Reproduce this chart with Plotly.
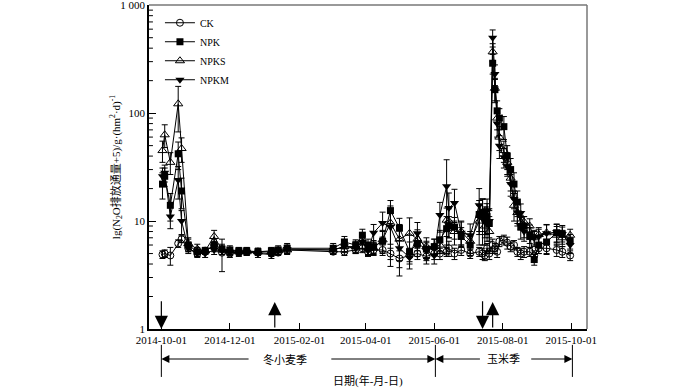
import math
import plotly.graph_objects as go

dates = [
    "2014-10-02", "2014-10-04", "2014-10-09", "2014-10-16", "2014-10-19", "2014-10-25",
    "2014-11-02", "2014-11-09", "2014-11-17", "2014-11-24", "2014-12-01", "2014-12-09",
    "2014-12-16", "2014-12-26", "2015-01-07", "2015-01-13", "2015-01-21", "2015-03-03",
    "2015-03-13", "2015-03-23", "2015-03-29", "2015-04-03", "2015-04-08", "2015-04-16",
    "2015-04-23", "2015-05-01", "2015-05-10", "2015-05-17", "2015-05-25", "2015-06-01",
    "2015-06-06", "2015-06-12", "2015-06-14", "2015-06-19", "2015-06-25", "2015-07-03",
    "2015-07-11", "2015-07-14", "2015-07-16", "2015-07-18", "2015-07-20", "2015-07-23",
    "2015-07-25", "2015-07-27", "2015-07-29", "2015-08-02", "2015-08-05", "2015-08-08",
    "2015-08-11", "2015-08-14", "2015-08-17", "2015-08-20", "2015-08-25", "2015-08-29",
    "2015-09-02", "2015-09-09", "2015-09-18", "2015-09-23", "2015-09-30",
]

ck = [4.9, 5.0, 4.8, 6.2, 6.8, 5.6, 5.0, 5.2, 6.0, 5.1, 5.0, 5.2, 5.2, 5.1, 5.0, 5.1, 5.4, 5.2,
      5.2, 5.4, 5.6, 5.2, 5.4, 5.4, 5.0, 4.5, 4.8, 5.0, 4.7, 5.0,
      5.0, 5.2, 5.6, 5.0, 5.4, 5.0, 5.2, 5.0, 4.8, 5.6, 5.0, 6.0, 5.6, 5.2, 6.5, 6.7, 6.3, 5.8,
      6.0, 5.2, 5.0, 5.2, 5.2, 4.8, 5.6, 5.6, 5.4, 5.2, 4.8]
ck_err = [0.4, 0.4, 0.9, 0.5, 0.5, 0.4, 0.3, 0.3, 0.5, 1.7, 0.4, 0.3, 0.3, 0.3, 0.3, 0.3, 0.4, 0.3,
          0.4, 0.4, 0.5, 0.4, 0.5, 0.6, 0.6, 0.8, 0.6, 0.6, 0.7, 0.6,
          0.6, 0.5, 0.9, 0.6, 0.6, 0.5, 0.5, 0.6, 0.5, 0.6, 0.6, 0.8, 0.6, 0.6, 0.7, 0.7, 0.8, 0.6,
          0.6, 0.5, 0.6, 0.6, 0.5, 0.5, 0.6, 0.6, 0.7, 0.6, 0.5]

npk = [22, 26, 14, 42, 19, 6.0, 5.2, 5.3, 6.0, 5.5, 5.4, 5.3, 5.3, 5.2, 5.3, 5.4, 5.6, 5.6,
       6.4, 6.0, 7.4, 6.0, 5.8, 6.5, 12.5, 8.6, 5.2, 6.2, 5.5, 5.8,
       6.7, 8.5, 9.0, 8.8, 7.2, 6.0, 11.5, 12.0, 10.5, 11.0, 9.5, 290, 165, 105, 90, 75, 40, 30,
       22, 15, 8.8, 9.0, 7.2, 4.4, 6.0, 6.4, 7.8, 7.6, 6.5]
npk_err = [6, 5, 4, 12, 6, 0.8, 0.5, 0.4, 0.8, 0.6, 0.5, 0.4, 0.4, 0.4, 0.4, 0.5, 0.6, 0.6,
           0.8, 0.7, 1.0, 0.8, 0.8, 1.5, 3.0, 2.0, 1.2, 1.5, 1.0, 1.0,
           1.5, 2.5, 2.0, 2.0, 1.5, 1.2, 4.0, 4.0, 3.0, 3.5, 3.0, 60, 40, 25, 20, 18, 10, 8,
           6, 4, 2.0, 2.0, 1.5, 0.5, 1.0, 1.5, 1.5, 1.5, 1.0]

npks = [45, 63, 35, 122, 47, 6.2, 5.5, 5.3, 7.2, 5.4, 5.3, 5.2, 5.2, 5.2, 5.2, 5.3, 5.4, 5.4,
        5.8, 5.8, 6.4, 5.6, 5.6, 6.7, 9.6, 6.8, 7.7, 6.8, 5.8, 5.8,
        6.0, 10.2, 10.0, 8.0, 8.0, 6.5, 10.0, 11.0, 9.0, 10.0, 8.0, 370, 170, 90, 60, 45, 35, 25,
        14, 12, 9.8, 9.8, 9.0, 7.0, 7.5, 7.8, 7.4, 7.0, 7.4]
npks_err = [10, 15, 8, 55, 12, 0.8, 0.6, 0.4, 1.0, 0.5, 0.4, 0.4, 0.4, 0.4, 0.4, 0.4, 0.5, 0.5,
            0.7, 0.7, 0.9, 0.7, 0.8, 1.5, 3.5, 2.5, 3.0, 1.5, 1.2, 1.0,
            1.0, 3.0, 3.0, 2.0, 2.0, 1.5, 4.0, 5.0, 3.0, 3.5, 3.0, 70, 40, 20, 15, 10, 8, 6,
            4, 3, 1.5, 1.2, 1.5, 1.0, 1.2, 1.5, 1.5, 1.2, 1.0]

npkm = [26, 28, 11, 24, 10, 5.6, 5.0, 5.0, 5.4, 5.3, 5.2, 5.1, 5.2, 5.0, 4.9, 5.3, 5.5, 5.4,
        5.8, 5.6, 6.4, 5.3, 7.8, 9.6, 8.8, 5.6, 4.6, 7.7, 5.3, 4.8,
        11.4, 21, 13.2, 14.7, 7.8, 7.4, 14, 12, 10, 12.5, 10, 500, 230, 80, 50, 39, 32, 22,
        16, 12, 11.9, 8.0, 7.7, 7.0, 7.2, 7.7, 7.9, 7.6, 6.0]
npkm_err = [5, 5, 2.5, 8, 2.5, 0.6, 0.4, 0.4, 0.5, 0.4, 0.4, 0.4, 0.4, 0.4, 0.4, 0.4, 0.5, 0.5,
            0.6, 0.6, 0.8, 0.6, 1.5, 2.5, 5.0, 2.5, 1.0, 2.0, 1.0, 0.8,
            3.5, 16, 5.0, 5.0, 2.0, 2.0, 6.0, 4.0, 3.0, 3.5, 3.0, 90, 50, 20, 12, 8, 6, 5,
            3, 2.5, 2.5, 1.5, 1.5, 1.2, 1.2, 1.5, 1.5, 1.2, 1.0]

tick_dates = ["2014-10-01", "2014-12-01", "2015-02-01", "2015-04-01", "2015-06-01", "2015-08-01", "2015-10-01"]
ytick_vals = [1, 10, 100, 1000]
ytick_text = ["1", "10", "100", "1 000"]

FONT = "Liberation Serif, Times New Roman, Noto Sans CJK SC, serif"
YTOP = 3.002

series = [
    ("CK", ck, ck_err, dict(symbol="circle-open", color="black", size=7, line=dict(width=1, color="black"))),
    ("NPK", npk, npk_err, dict(symbol="square", color="black", size=7)),
    ("NPKS", npks, npks_err, dict(symbol="triangle-up-open", color="black", size=8, line=dict(width=1, color="black"))),
    ("NPKM", npkm, npkm_err, dict(symbol="triangle-down", color="black", size=8)),
]

fig = go.Figure()
for name, vals, errs, mk in series:
    fig.add_trace(go.Scatter(
        x=dates, y=vals, name=name, mode="lines+markers",
        line=dict(color="black", width=1),
        marker=mk,
        error_y=dict(type="data", array=errs, visible=True, color="black", thickness=1, width=3),
    ))

fig.update_layout(
    width=700, height=388,
    margin=dict(l=149, r=113, t=5, b=59),
    paper_bgcolor="white", plot_bgcolor="white",
    font=dict(family=FONT, size=11, color="black"),
    showlegend=True,
    legend=dict(x=0.025, y=0.99, xanchor="left", yanchor="top", bgcolor="rgba(0,0,0,0)",
                font=dict(size=10, family=FONT), tracegroupgap=0),
    xaxis=dict(type="date", range=["2014-09-20", "2015-10-15"],
               tickvals=tick_dates, ticktext=tick_dates, automargin=False,
               ticks="inside", ticklen=6, tickcolor="black", showgrid=False, zeroline=False,
               showline=True, linecolor="black", linewidth=1.5,
               tickfont=dict(family=FONT, size=11)),
    yaxis=dict(type="log", range=[0, YTOP], tickvals=ytick_vals, ticktext=ytick_text, automargin=False,
               ticklabeloverflow="allow",
               ticks="inside", ticklen=7, tickcolor="black", showgrid=False, zeroline=False,
               showline=True, linecolor="black", linewidth=1.5,
               tickfont=dict(family=FONT, size=11)),
)

# minor ticks on log y axis
for k in range(3):
    for m in range(2, 10):
        f = math.log10(m * 10 ** k) / YTOP
        fig.add_shape(type="line", xref="paper", yref="paper", x0=0, x1=0.009, y0=f, y1=f,
                      line=dict(color="black", width=1))

# top and right frame lines (gray)
fig.add_shape(type="line", xref="paper", yref="paper", x0=0, x1=1, y0=1, y1=1, line=dict(color="#777", width=1.5))
fig.add_shape(type="line", xref="paper", yref="paper", x0=1, x1=1, y0=0, y1=1, line=dict(color="#777", width=1.5))

# fertilisation / sowing arrows inside plot
def vert_arrow(date, down):
    if down:
        fig.add_annotation(x=date, y=0, xref="x", yref="y", axref="x", ayref="y", ax=date, ay=0.27,
                           showarrow=True, arrowhead=2, arrowsize=2.2, arrowwidth=1.2, arrowcolor="black", text="")
    else:
        fig.add_annotation(x=date, y=0.25, xref="x", yref="y", axref="x", ayref="y", ax=date, ay=0,
                           showarrow=True, arrowhead=2, arrowsize=2.2, arrowwidth=1.2, arrowcolor="black", text="")

vert_arrow("2014-10-01", True)
vert_arrow("2015-01-10", False)
vert_arrow("2015-07-14", True)
vert_arrow("2015-07-23", False)

# season markers below axis
Y_LINE = -0.0926
for d in ["2014-10-01", "2015-06-02", "2015-10-02"]:
    fig.add_shape(type="line", xref="x", yref="paper", x0=d, x1=d, y0=-0.049, y1=-0.148,
                  line=dict(color="black", width=1))

def h_arrow(head, tail):
    fig.add_annotation(x=head, y=Y_LINE, xref="x", yref="paper", axref="x", ayref="pixel",
                       ax=tail, ay=0, showarrow=True, arrowhead=2, arrowsize=1.6, arrowwidth=1,
                       arrowcolor="black", text="")

h_arrow("2014-10-01", "2014-12-19")
h_arrow("2015-06-02", "2015-02-28")
h_arrow("2015-06-02", "2015-07-13")
h_arrow("2015-10-02", "2015-08-25")

fig.add_annotation(x="2015-01-19", y=Y_LINE, xref="x", yref="paper", text="冬小麦季", showarrow=False,
                   xanchor="center", yanchor="middle", font=dict(family=FONT, size=11))
fig.add_annotation(x="2015-08-02", y=Y_LINE, xref="x", yref="paper", text="玉米季", showarrow=False,
                   xanchor="center", yanchor="middle", font=dict(family=FONT, size=11))

fig.add_annotation(x=0.5, y=-0.162, xref="paper", yref="paper", text="日期(年-月-日)", showarrow=False,
                   xanchor="center", yanchor="middle", font=dict(family=FONT, size=11))
fig.add_annotation(x=-0.075, y=0.5, xref="paper", yref="paper", textangle=-90,
                   xanchor="center", yanchor="middle",
                   text="lg(N<sub>2</sub>O排放通量+5)/g·(hm<sup>2</sup>·d)<sup>-1</sup>",
                   showarrow=False, font=dict(family=FONT, size=11))

fig.write_html("out.html", config={"displayModeBar": False},
               post_script="document.body.style.margin='0px';")
